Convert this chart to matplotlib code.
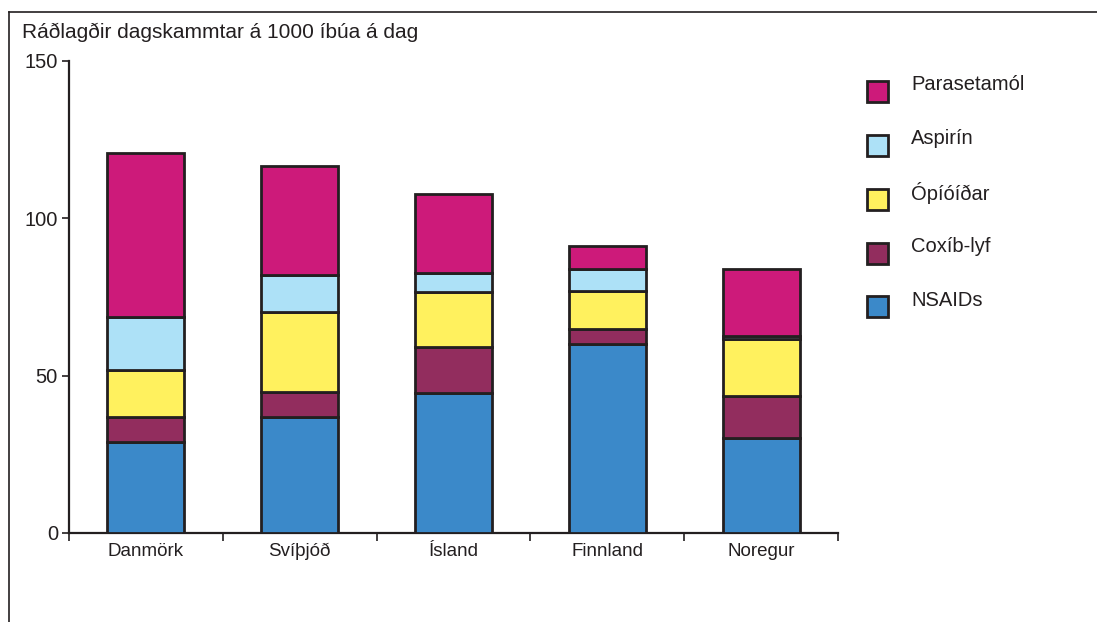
import matplotlib
matplotlib.use("Agg")
import matplotlib.pyplot as plt
from matplotlib.patches import Rectangle
from matplotlib.lines import Line2D
import numpy as np

countries = ["Danmörk", "Svíþjóð", "Ísland", "Finnland", "Noregur"]
nsaids = [29.0, 37.0, 44.4, 60.1, 30.3]
coxib = [8.0, 7.7, 14.6, 4.7, 13.2]
opioids = [14.8, 25.6, 17.5, 12.1, 18.2]
aspirin = [16.9, 11.7, 6.2, 7.1, 1.0]
paracetamol = [52.0, 34.6, 25.0, 7.3, 21.1]

series_names = ["NSAIDs", "Coxíb-lyf", "Ópíóíðar", "Aspirín", "Parasetamól"]
series_values = [nsaids, coxib, opioids, aspirin, paracetamol]
series_colors = ["#3B89C9", "#922D5E", "#FFF15E", "#ADE1F7", "#CD1A7A"]

y_ticks = [0, 50, 100, 150]
y_label = "Ráðlagðir dagskammtar á 1000 íbúa á dag"

ink = "#231f20"
plt.rcParams['font.family'] = ['Liberation Sans', 'DejaVu Sans']

fig = plt.figure(figsize=(10.97, 6.22), dpi=100)
W, H = 1097, 622
ax = fig.add_axes([69 / W, 1 - 533 / H, (838 - 69) / W, (533 - 61) / H])

x = np.arange(len(countries))
bottom = np.zeros(len(countries))
for name, vals, col in zip(series_names, series_values, series_colors):
    ax.bar(x, vals, width=0.5, bottom=bottom, color=col, edgecolor=ink,
           linewidth=2.0, zorder=3)
    bottom += np.array(vals)

ax.set_xlim(-0.5, len(countries) - 0.5)
ax.set_ylim(0, 150)
ax.set_yticks(y_ticks)
ax.set_yticklabels([str(t) for t in y_ticks], fontsize=14.5, color=ink)
ax.set_xticks(x)
ax.set_xticklabels(countries, fontsize=13.5, color=ink)
ax.tick_params(axis='x', length=0, pad=7)
ax.set_xticks(np.arange(len(countries) + 1) - 0.5, minor=True)
ax.tick_params(axis='x', which='minor', length=6, width=1.2, color=ink, direction='out')
ax.tick_params(axis='y', length=5, width=1.2, color=ink, pad=3)
for s in ['top', 'right']:
    ax.spines[s].set_visible(False)
for s in ['left', 'bottom']:
    ax.spines[s].set_linewidth(1.6)
    ax.spines[s].set_color(ink)

# figure frame lines
fig.add_artist(Line2D([9 / W, 1.0], [1 - 11.5 / H, 1 - 11.5 / H], transform=fig.transFigure,
                      color=ink, linewidth=1.2))
fig.add_artist(Line2D([9 / W, 9 / W], [1 - 11.5 / H, 0], transform=fig.transFigure,
                      color=ink, linewidth=1.2))

fig.text(22 / W, 1 - 32 / H, y_label, fontsize=15, color=ink, va='center', ha='left')

# legend (manual), top-to-bottom in reverse stacking order
for i, (name, col) in enumerate(zip(series_names[::-1], series_colors[::-1])):
    cy = 91 + i * 54
    size = 21
    fig.add_artist(Rectangle(((867) / W, 1 - (cy + size / 2) / H), size / W, size / H,
                             transform=fig.transFigure, facecolor=col, edgecolor=ink,
                             linewidth=2.0))
    fig.text(911 / W, 1 - (cy - 6) / H, name, fontsize=14.5, color=ink, va='center', ha='left')

fig.savefig("out.png", dpi=100)
